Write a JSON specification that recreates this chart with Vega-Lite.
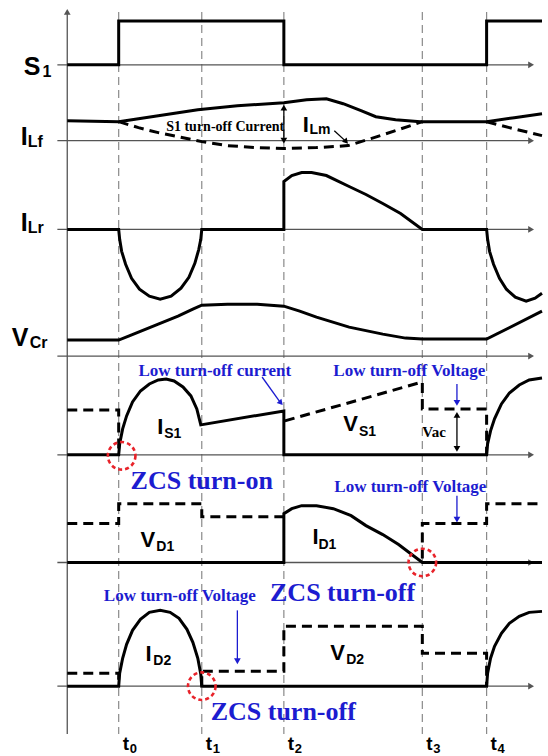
{
"$schema":"https://vega.github.io/schema/vega-lite/v6.json",
"width":548,"height":756,"autosize":{"type":"fit","contains":"padding"},"padding":0,
"background":"white",
"config":{"view":{"stroke":null}},
"datasets":{
"traces":[
{"s":"S1","x":68,"y":65},{"s":"S1","x":120,"y":65},{"s":"S1","x":120,"y":21},{"s":"S1","x":287,"y":21},{"s":"S1","x":287,"y":65},{"s":"S1","x":492,"y":65},{"s":"S1","x":492,"y":21},{"s":"S1","x":548,"y":21},
{"s":"ILf","x":68,"y":121},{"s":"ILf","x":120,"y":122},{"s":"ILf","x":160,"y":116},{"s":"ILf","x":200,"y":110},{"s":"ILf","x":240,"y":106},{"s":"ILf","x":287,"y":103},{"s":"ILf","x":310,"y":100},{"s":"ILf","x":330,"y":99},{"s":"ILf","x":347,"y":104},{"s":"ILf","x":365,"y":111},{"s":"ILf","x":380,"y":117},{"s":"ILf","x":400,"y":120},{"s":"ILf","x":425,"y":122},{"s":"ILf","x":492,"y":122},{"s":"ILf","x":520,"y":118},{"s":"ILf","x":548,"y":114},
{"s":"ILm","x":120,"y":122},{"s":"ILm","x":140,"y":128},{"s":"ILm","x":160,"y":133},{"s":"ILm","x":180,"y":137},{"s":"ILm","x":204,"y":142},{"s":"ILm","x":230,"y":146},{"s":"ILm","x":260,"y":148},{"s":"ILm","x":287,"y":149},{"s":"ILm","x":320,"y":148},{"s":"ILm","x":352,"y":146},{"s":"ILm","x":375,"y":139},{"s":"ILm","x":400,"y":131},{"s":"ILm","x":427,"y":122},
{"s":"ILm2","x":492,"y":122},{"s":"ILm2","x":515,"y":128},{"s":"ILm2","x":548,"y":136},
{"s":"ILr","x":68,"y":230},{"s":"ILr","x":120,"y":230},{"s":"ILr","x":121,"y":240},{"s":"ILr","x":123,"y":252},{"s":"ILr","x":127,"y":265},{"s":"ILr","x":133,"y":279},{"s":"ILr","x":141,"y":290},{"s":"ILr","x":151,"y":297},{"s":"ILr","x":162,"y":300},{"s":"ILr","x":173,"y":297},{"s":"ILr","x":183,"y":289},{"s":"ILr","x":191,"y":278},{"s":"ILr","x":197,"y":264},{"s":"ILr","x":201,"y":250},{"s":"ILr","x":203,"y":240},{"s":"ILr","x":204,"y":230},{"s":"ILr","x":287,"y":230},{"s":"ILr","x":287,"y":182},{"s":"ILr","x":295,"y":176},{"s":"ILr","x":305,"y":173},{"s":"ILr","x":315,"y":173},{"s":"ILr","x":330,"y":176},{"s":"ILr","x":353,"y":187},{"s":"ILr","x":370,"y":195},{"s":"ILr","x":387,"y":204},{"s":"ILr","x":405,"y":214},{"s":"ILr","x":427,"y":230},{"s":"ILr","x":492,"y":230},{"s":"ILr","x":493,"y":240},{"s":"ILr","x":495,"y":252},{"s":"ILr","x":499,"y":265},{"s":"ILr","x":505,"y":279},{"s":"ILr","x":512,"y":290},{"s":"ILr","x":521,"y":298},{"s":"ILr","x":532,"y":302},{"s":"ILr","x":541,"y":299},{"s":"ILr","x":548,"y":294},
{"s":"VCr","x":68,"y":341},{"s":"VCr","x":120,"y":341},{"s":"VCr","x":130,"y":337},{"s":"VCr","x":140,"y":333},{"s":"VCr","x":160,"y":325},{"s":"VCr","x":180,"y":317},{"s":"VCr","x":195,"y":310},{"s":"VCr","x":204,"y":306},{"s":"VCr","x":230,"y":305},{"s":"VCr","x":260,"y":305},{"s":"VCr","x":287,"y":307},{"s":"VCr","x":303,"y":312},{"s":"VCr","x":320,"y":318},{"s":"VCr","x":353,"y":328},{"s":"VCr","x":387,"y":335},{"s":"VCr","x":410,"y":339},{"s":"VCr","x":427,"y":340},{"s":"VCr","x":492,"y":340},{"s":"VCr","x":548,"y":312},
{"s":"IS1","x":68,"y":456},{"s":"IS1","x":120,"y":456},{"s":"IS1","x":121,"y":445},{"s":"IS1","x":124,"y":430},{"s":"IS1","x":128,"y":417},{"s":"IS1","x":134,"y":403},{"s":"IS1","x":142,"y":392},{"s":"IS1","x":151,"y":385},{"s":"IS1","x":160,"y":381},{"s":"IS1","x":168,"y":380},{"s":"IS1","x":176,"y":382},{"s":"IS1","x":185,"y":388},{"s":"IS1","x":193,"y":397},{"s":"IS1","x":199,"y":410},{"s":"IS1","x":203,"y":426},{"s":"IS1","x":287,"y":412},{"s":"IS1","x":287,"y":456},{"s":"IS1","x":492,"y":456},{"s":"IS1","x":493,"y":445},{"s":"IS1","x":496,"y":432},{"s":"IS1","x":500,"y":420},{"s":"IS1","x":507,"y":405},{"s":"IS1","x":515,"y":394},{"s":"IS1","x":525,"y":386},{"s":"IS1","x":535,"y":381},{"s":"IS1","x":548,"y":379},
{"s":"VS1","x":68,"y":411},{"s":"VS1","x":120,"y":411},{"s":"VS1","x":120,"y":456},
{"s":"VS1b","x":288,"y":422},{"s":"VS1b","x":427,"y":383},{"s":"VS1b","x":427,"y":410},{"s":"VS1b","x":492,"y":410},{"s":"VS1b","x":492,"y":456},
{"s":"ID1","x":68,"y":564},{"s":"ID1","x":287,"y":564},{"s":"ID1","x":287,"y":515},{"s":"ID1","x":295,"y":510},{"s":"ID1","x":305,"y":507},{"s":"ID1","x":320,"y":507},{"s":"ID1","x":337,"y":510},{"s":"ID1","x":355,"y":517},{"s":"ID1","x":370,"y":527},{"s":"ID1","x":387,"y":536},{"s":"ID1","x":403,"y":546},{"s":"ID1","x":415,"y":555},{"s":"ID1","x":427,"y":564},{"s":"ID1","x":548,"y":564},
{"s":"VD1","x":68,"y":525},{"s":"VD1","x":120,"y":525},{"s":"VD1","x":120,"y":505},{"s":"VD1","x":204,"y":505},{"s":"VD1","x":204,"y":518},{"s":"VD1","x":287,"y":518},
{"s":"VD1b","x":427,"y":560},{"s":"VD1b","x":427,"y":525},{"s":"VD1b","x":492,"y":525},{"s":"VD1b","x":492,"y":505},{"s":"VD1b","x":548,"y":505},
{"s":"ID2","x":68,"y":688},{"s":"ID2","x":120,"y":688},{"s":"ID2","x":121,"y":675},{"s":"ID2","x":124,"y":660},{"s":"ID2","x":128,"y":646},{"s":"ID2","x":134,"y":632},{"s":"ID2","x":142,"y":621},{"s":"ID2","x":151,"y":614},{"s":"ID2","x":162,"y":612},{"s":"ID2","x":172,"y":614},{"s":"ID2","x":181,"y":620},{"s":"ID2","x":189,"y":631},{"s":"ID2","x":195,"y":644},{"s":"ID2","x":200,"y":660},{"s":"ID2","x":203,"y":676},{"s":"ID2","x":204,"y":688},{"s":"ID2","x":492,"y":688},{"s":"ID2","x":493,"y":675},{"s":"ID2","x":496,"y":660},{"s":"ID2","x":500,"y":648},{"s":"ID2","x":507,"y":635},{"s":"ID2","x":515,"y":625},{"s":"ID2","x":525,"y":618},{"s":"ID2","x":535,"y":614},{"s":"ID2","x":548,"y":613},
{"s":"VD2","x":68,"y":675},{"s":"VD2","x":120,"y":675},{"s":"VD2","x":120,"y":688},
{"s":"VD2b","x":204,"y":688},{"s":"VD2b","x":204,"y":673},{"s":"VD2b","x":287,"y":673},{"s":"VD2b","x":287,"y":628},{"s":"VD2b","x":427,"y":628},{"s":"VD2b","x":427,"y":655},{"s":"VD2b","x":492,"y":655},{"s":"VD2b","x":492,"y":688}
],
"lines":[
{"g":"axis","x":58,"x2":536,"y":65,"y2":65},{"g":"axis","x":58,"x2":536,"y":141,"y2":141},{"g":"axis","x":58,"x2":536,"y":230,"y2":230},{"g":"axis","x":58,"x2":536,"y":357,"y2":357},{"g":"axis","x":58,"x2":536,"y":456,"y2":456},{"g":"axis","x":58,"x2":536,"y":564,"y2":564},{"g":"axis","x":58,"x2":536,"y":688,"y2":688},
{"g":"axis","x":68,"x2":68,"y":14,"y2":736},
{"g":"black","x":287,"x2":287,"y":108,"y2":141},{"g":"black","x":462,"x2":462,"y":416,"y2":450},{"g":"black","x":338,"x2":350,"y":131,"y2":142},
{"g":"blue","x":462,"x2":462,"y":385,"y2":403},{"g":"blue","x":462,"x2":462,"y":497,"y2":520},{"g":"blue","x":240,"x2":240,"y":612,"y2":662},{"g":"blue","x":265,"x2":283,"y":378,"y2":403}
],
"heads":[
{"g":"axis","dir":"right","x":537,"y":65},{"g":"axis","dir":"right","x":537,"y":141},{"g":"axis","dir":"right","x":537,"y":230},{"g":"axis","dir":"right","x":537,"y":357},{"g":"axis","dir":"right","x":537,"y":456},{"g":"axis","dir":"right","x":537,"y":564},{"g":"axis","dir":"right","x":537,"y":688},{"g":"axis","dir":"up","x":68,"y":12},
{"g":"black","dir":"up","x":287,"y":108},{"g":"black","dir":"down","x":287,"y":141},{"g":"black","dir":"up","x":462,"y":416},{"g":"black","dir":"down","x":462,"y":450},{"g":"black","dir":"diag","x":350,"y":142},
{"g":"blue","dir":"down","x":462,"y":404},{"g":"blue","dir":"down","x":462,"y":521},{"g":"blue","dir":"down","x":240,"y":663},{"g":"blue","dir":"diag","x":284,"y":404}
],
"marks":[{"t":"0","x":120},{"t":"1","x":204},{"t":"2","x":287},{"t":"3","x":427},{"t":"4","x":492}],
"circles":[{"x":123,"y":457},{"x":427,"y":564},{"x":204,"y":688}],
"labels":[
{"g":"big","txt":"S","x":24,"y":75},{"g":"bigsub","txt":"1","x":43,"y":77},
{"g":"big","txt":"I","x":21,"y":145},{"g":"bigsub","txt":"Lf","x":28,"y":147},
{"g":"big","txt":"I","x":21,"y":232},{"g":"bigsub","txt":"Lr","x":28,"y":234},
{"g":"big","txt":"V","x":12,"y":347},{"g":"bigsub","txt":"Cr","x":30,"y":349},
{"g":"mid","txt":"I","x":306,"y":132},{"g":"midsub","txt":"Lm","x":313,"y":134},
{"g":"mid","txt":"I","x":159,"y":435},{"g":"midsub","txt":"S1","x":166,"y":439},
{"g":"mid","txt":"V","x":347,"y":432},{"g":"midsub","txt":"S1","x":363,"y":437},
{"g":"mid","txt":"V","x":142,"y":548},{"g":"midsub","txt":"D1","x":158,"y":552},
{"g":"mid","txt":"I","x":316,"y":545},{"g":"midsub","txt":"D1","x":322,"y":550},
{"g":"mid","txt":"I","x":147,"y":663},{"g":"midsub","txt":"D2","x":155,"y":667},
{"g":"mid","txt":"V","x":334,"y":662},{"g":"midsub","txt":"D2","x":350,"y":666},
{"g":"blue","txt":"Low turn-off current","x":140,"y":377},
{"g":"blue","txt":"Low turn-off Voltage","x":337,"y":377},
{"g":"blue","txt":"Low turn-off Voltage","x":338,"y":493},
{"g":"blue","txt":"Low turn-off Voltage","x":105,"y":603},
{"g":"zcs","txt":"ZCS turn-on","x":132,"y":490},
{"g":"zcs","txt":"ZCS turn-off","x":273,"y":603},
{"g":"zcs","txt":"ZCS turn-off","x":213,"y":722},
{"g":"note","txt":"S1 turn-off Current","x":168,"y":131},
{"g":"vac","txt":"Vac","x":427,"y":438}
]
},
"layer":[
{"data":{"name":"marks"},"mark":{"type":"rule","color":"#8a8a8a","strokeWidth":1.2,"strokeDash":[8,5]},
 "encoding":{"x":{"field":"x","type":"quantitative","scale":{"domain":[0,548],"nice":false,"zero":false},"axis":null},
 "y":{"datum":12,"type":"quantitative","scale":{"domain":[0,756],"reverse":true,"nice":false,"zero":false},"axis":null},"y2":{"datum":736}}},
{"data":{"name":"lines"},"mark":{"type":"rule","strokeWidth":1.3},
 "encoding":{"x":{"field":"x","type":"quantitative","scale":{"domain":[0,548],"nice":false,"zero":false},"axis":null},"x2":{"field":"x2"},
 "y":{"field":"y","type":"quantitative","scale":{"domain":[0,756],"reverse":true,"nice":false,"zero":false},"axis":null},"y2":{"field":"y2"},
 "color":{"field":"g","type":"nominal","scale":{"domain":["axis","black","blue"],"range":["#555555","#000000","#1c1cd0"]},"legend":null}}},
{"data":{"name":"heads"},"transform":[{"filter":"datum.dir != 'diag'"}],"mark":{"type":"point","filled":true,"opacity":1,"size":45},
 "encoding":{"x":{"field":"x","type":"quantitative","scale":{"domain":[0,548],"nice":false,"zero":false},"axis":null},
 "y":{"field":"y","type":"quantitative","scale":{"domain":[0,756],"reverse":true,"nice":false,"zero":false},"axis":null},
 "shape":{"field":"dir","type":"nominal","scale":{"domain":["right","down","up"],"range":["triangle-right","triangle-down","triangle-up"]},"legend":null},
 "color":{"field":"g","type":"nominal","scale":{"domain":["axis","black","blue"],"range":["#555555","#000000","#1c1cd0"]},"legend":null}}},
{"data":{"name":"heads"},"transform":[{"filter":"datum.dir == 'diag'"}],"mark":{"type":"point","filled":true,"opacity":1,"size":40,"shape":"triangle-right","angle":48},
 "encoding":{"x":{"field":"x","type":"quantitative","scale":{"domain":[0,548],"nice":false,"zero":false},"axis":null},
 "y":{"field":"y","type":"quantitative","scale":{"domain":[0,756],"reverse":true,"nice":false,"zero":false},"axis":null},
 "color":{"field":"g","type":"nominal","scale":{"domain":["axis","black","blue"],"range":["#555555","#000000","#1c1cd0"]},"legend":null}}},
{"data":{"name":"traces"},"transform":[{"filter":{"field":"s","oneOf":["S1","ILf","ILr","VCr","IS1","ID1","ID2"]}}],
 "mark":{"type":"line","color":"#000000","strokeWidth":3,"strokeJoin":"miter"},
 "encoding":{"x":{"field":"x","type":"quantitative","scale":{"domain":[0,548],"nice":false,"zero":false},"axis":null},
 "y":{"field":"y","type":"quantitative","scale":{"domain":[0,756],"reverse":true,"nice":false,"zero":false},"axis":null},
 "detail":{"field":"s"},"order":{"value":null}}},
{"data":{"name":"traces"},"transform":[{"filter":{"field":"s","oneOf":["ILm","ILm2","VS1","VS1b","VD1","VD1b","VD2","VD2b"]}}],
 "mark":{"type":"line","color":"#000000","strokeWidth":3,"strokeDash":[10,6],"strokeJoin":"miter"},
 "encoding":{"x":{"field":"x","type":"quantitative","scale":{"domain":[0,548],"nice":false,"zero":false},"axis":null},
 "y":{"field":"y","type":"quantitative","scale":{"domain":[0,756],"reverse":true,"nice":false,"zero":false},"axis":null},
 "detail":{"field":"s"},"order":{"value":null}}},
{"data":{"name":"circles"},"mark":{"type":"point","filled":false,"shape":"circle","size":760,"stroke":"#e8232a","strokeWidth":2.6,"strokeDash":[4,3],"opacity":1},
 "encoding":{"x":{"field":"x","type":"quantitative","scale":{"domain":[0,548],"nice":false,"zero":false},"axis":null},
 "y":{"field":"y","type":"quantitative","scale":{"domain":[0,756],"reverse":true,"nice":false,"zero":false},"axis":null}}},
{"data":{"name":"labels"},"transform":[{"filter":"datum.g == 'big'"}],"mark":{"type":"text","font":"Liberation Sans","fontWeight":"bold","fontSize":25,"align":"left","baseline":"alphabetic","color":"#000"},
 "encoding":{"x":{"field":"x","type":"quantitative","scale":{"domain":[0,548],"nice":false,"zero":false},"axis":null},"y":{"field":"y","type":"quantitative","scale":{"domain":[0,756],"reverse":true,"nice":false,"zero":false},"axis":null},"text":{"field":"txt"}}},
{"data":{"name":"labels"},"transform":[{"filter":"datum.g == 'bigsub'"}],"mark":{"type":"text","font":"Liberation Sans","fontWeight":"bold","fontSize":16,"align":"left","baseline":"alphabetic","color":"#000"},
 "encoding":{"x":{"field":"x","type":"quantitative","scale":{"domain":[0,548],"nice":false,"zero":false},"axis":null},"y":{"field":"y","type":"quantitative","scale":{"domain":[0,756],"reverse":true,"nice":false,"zero":false},"axis":null},"text":{"field":"txt"}}},
{"data":{"name":"labels"},"transform":[{"filter":"datum.g == 'mid'"}],"mark":{"type":"text","font":"Liberation Sans","fontWeight":"bold","fontSize":22,"align":"left","baseline":"alphabetic","color":"#000"},
 "encoding":{"x":{"field":"x","type":"quantitative","scale":{"domain":[0,548],"nice":false,"zero":false},"axis":null},"y":{"field":"y","type":"quantitative","scale":{"domain":[0,756],"reverse":true,"nice":false,"zero":false},"axis":null},"text":{"field":"txt"}}},
{"data":{"name":"labels"},"transform":[{"filter":"datum.g == 'midsub'"}],"mark":{"type":"text","font":"Liberation Sans","fontWeight":"bold","fontSize":14,"align":"left","baseline":"alphabetic","color":"#000"},
 "encoding":{"x":{"field":"x","type":"quantitative","scale":{"domain":[0,548],"nice":false,"zero":false},"axis":null},"y":{"field":"y","type":"quantitative","scale":{"domain":[0,756],"reverse":true,"nice":false,"zero":false},"axis":null},"text":{"field":"txt"}}},
{"data":{"name":"labels"},"transform":[{"filter":"datum.g == 'blue'"}],"mark":{"type":"text","font":"Liberation Serif","fontWeight":"bold","fontSize":17,"align":"left","baseline":"alphabetic","color":"#1c1cd0"},
 "encoding":{"x":{"field":"x","type":"quantitative","scale":{"domain":[0,548],"nice":false,"zero":false},"axis":null},"y":{"field":"y","type":"quantitative","scale":{"domain":[0,756],"reverse":true,"nice":false,"zero":false},"axis":null},"text":{"field":"txt"}}},
{"data":{"name":"labels"},"transform":[{"filter":"datum.g == 'zcs'"}],"mark":{"type":"text","font":"Liberation Serif","fontWeight":"bold","fontSize":26,"align":"left","baseline":"alphabetic","color":"#1c1cd0"},
 "encoding":{"x":{"field":"x","type":"quantitative","scale":{"domain":[0,548],"nice":false,"zero":false},"axis":null},"y":{"field":"y","type":"quantitative","scale":{"domain":[0,756],"reverse":true,"nice":false,"zero":false},"axis":null},"text":{"field":"txt"}}},
{"data":{"name":"labels"},"transform":[{"filter":"datum.g == 'note'"}],"mark":{"type":"text","font":"Liberation Serif","fontWeight":"bold","fontSize":14,"align":"left","baseline":"alphabetic","color":"#000"},
 "encoding":{"x":{"field":"x","type":"quantitative","scale":{"domain":[0,548],"nice":false,"zero":false},"axis":null},"y":{"field":"y","type":"quantitative","scale":{"domain":[0,756],"reverse":true,"nice":false,"zero":false},"axis":null},"text":{"field":"txt"}}},
{"data":{"name":"labels"},"transform":[{"filter":"datum.g == 'vac'"}],"mark":{"type":"text","font":"Liberation Serif","fontWeight":"bold","fontSize":15,"align":"left","baseline":"alphabetic","color":"#000"},
 "encoding":{"x":{"field":"x","type":"quantitative","scale":{"domain":[0,548],"nice":false,"zero":false},"axis":null},"y":{"field":"y","type":"quantitative","scale":{"domain":[0,756],"reverse":true,"nice":false,"zero":false},"axis":null},"text":{"field":"txt"}}},
{"data":{"name":"marks"},"mark":{"type":"text","font":"Liberation Sans","fontWeight":"bold","fontSize":19,"align":"left","baseline":"alphabetic","color":"#000","dx":4,"text":"t"},
 "encoding":{"x":{"field":"x","type":"quantitative","scale":{"domain":[0,548],"nice":false,"zero":false},"axis":null},"y":{"datum":752,"type":"quantitative","scale":{"domain":[0,756],"reverse":true,"nice":false,"zero":false},"axis":null}}},
{"data":{"name":"marks"},"mark":{"type":"text","font":"Liberation Sans","fontWeight":"bold","fontSize":13,"align":"left","baseline":"alphabetic","color":"#000","dx":11},
 "encoding":{"x":{"field":"x","type":"quantitative","scale":{"domain":[0,548],"nice":false,"zero":false},"axis":null},"y":{"datum":755,"type":"quantitative","scale":{"domain":[0,756],"reverse":true,"nice":false,"zero":false},"axis":null},"text":{"field":"t"}}}
]
}
